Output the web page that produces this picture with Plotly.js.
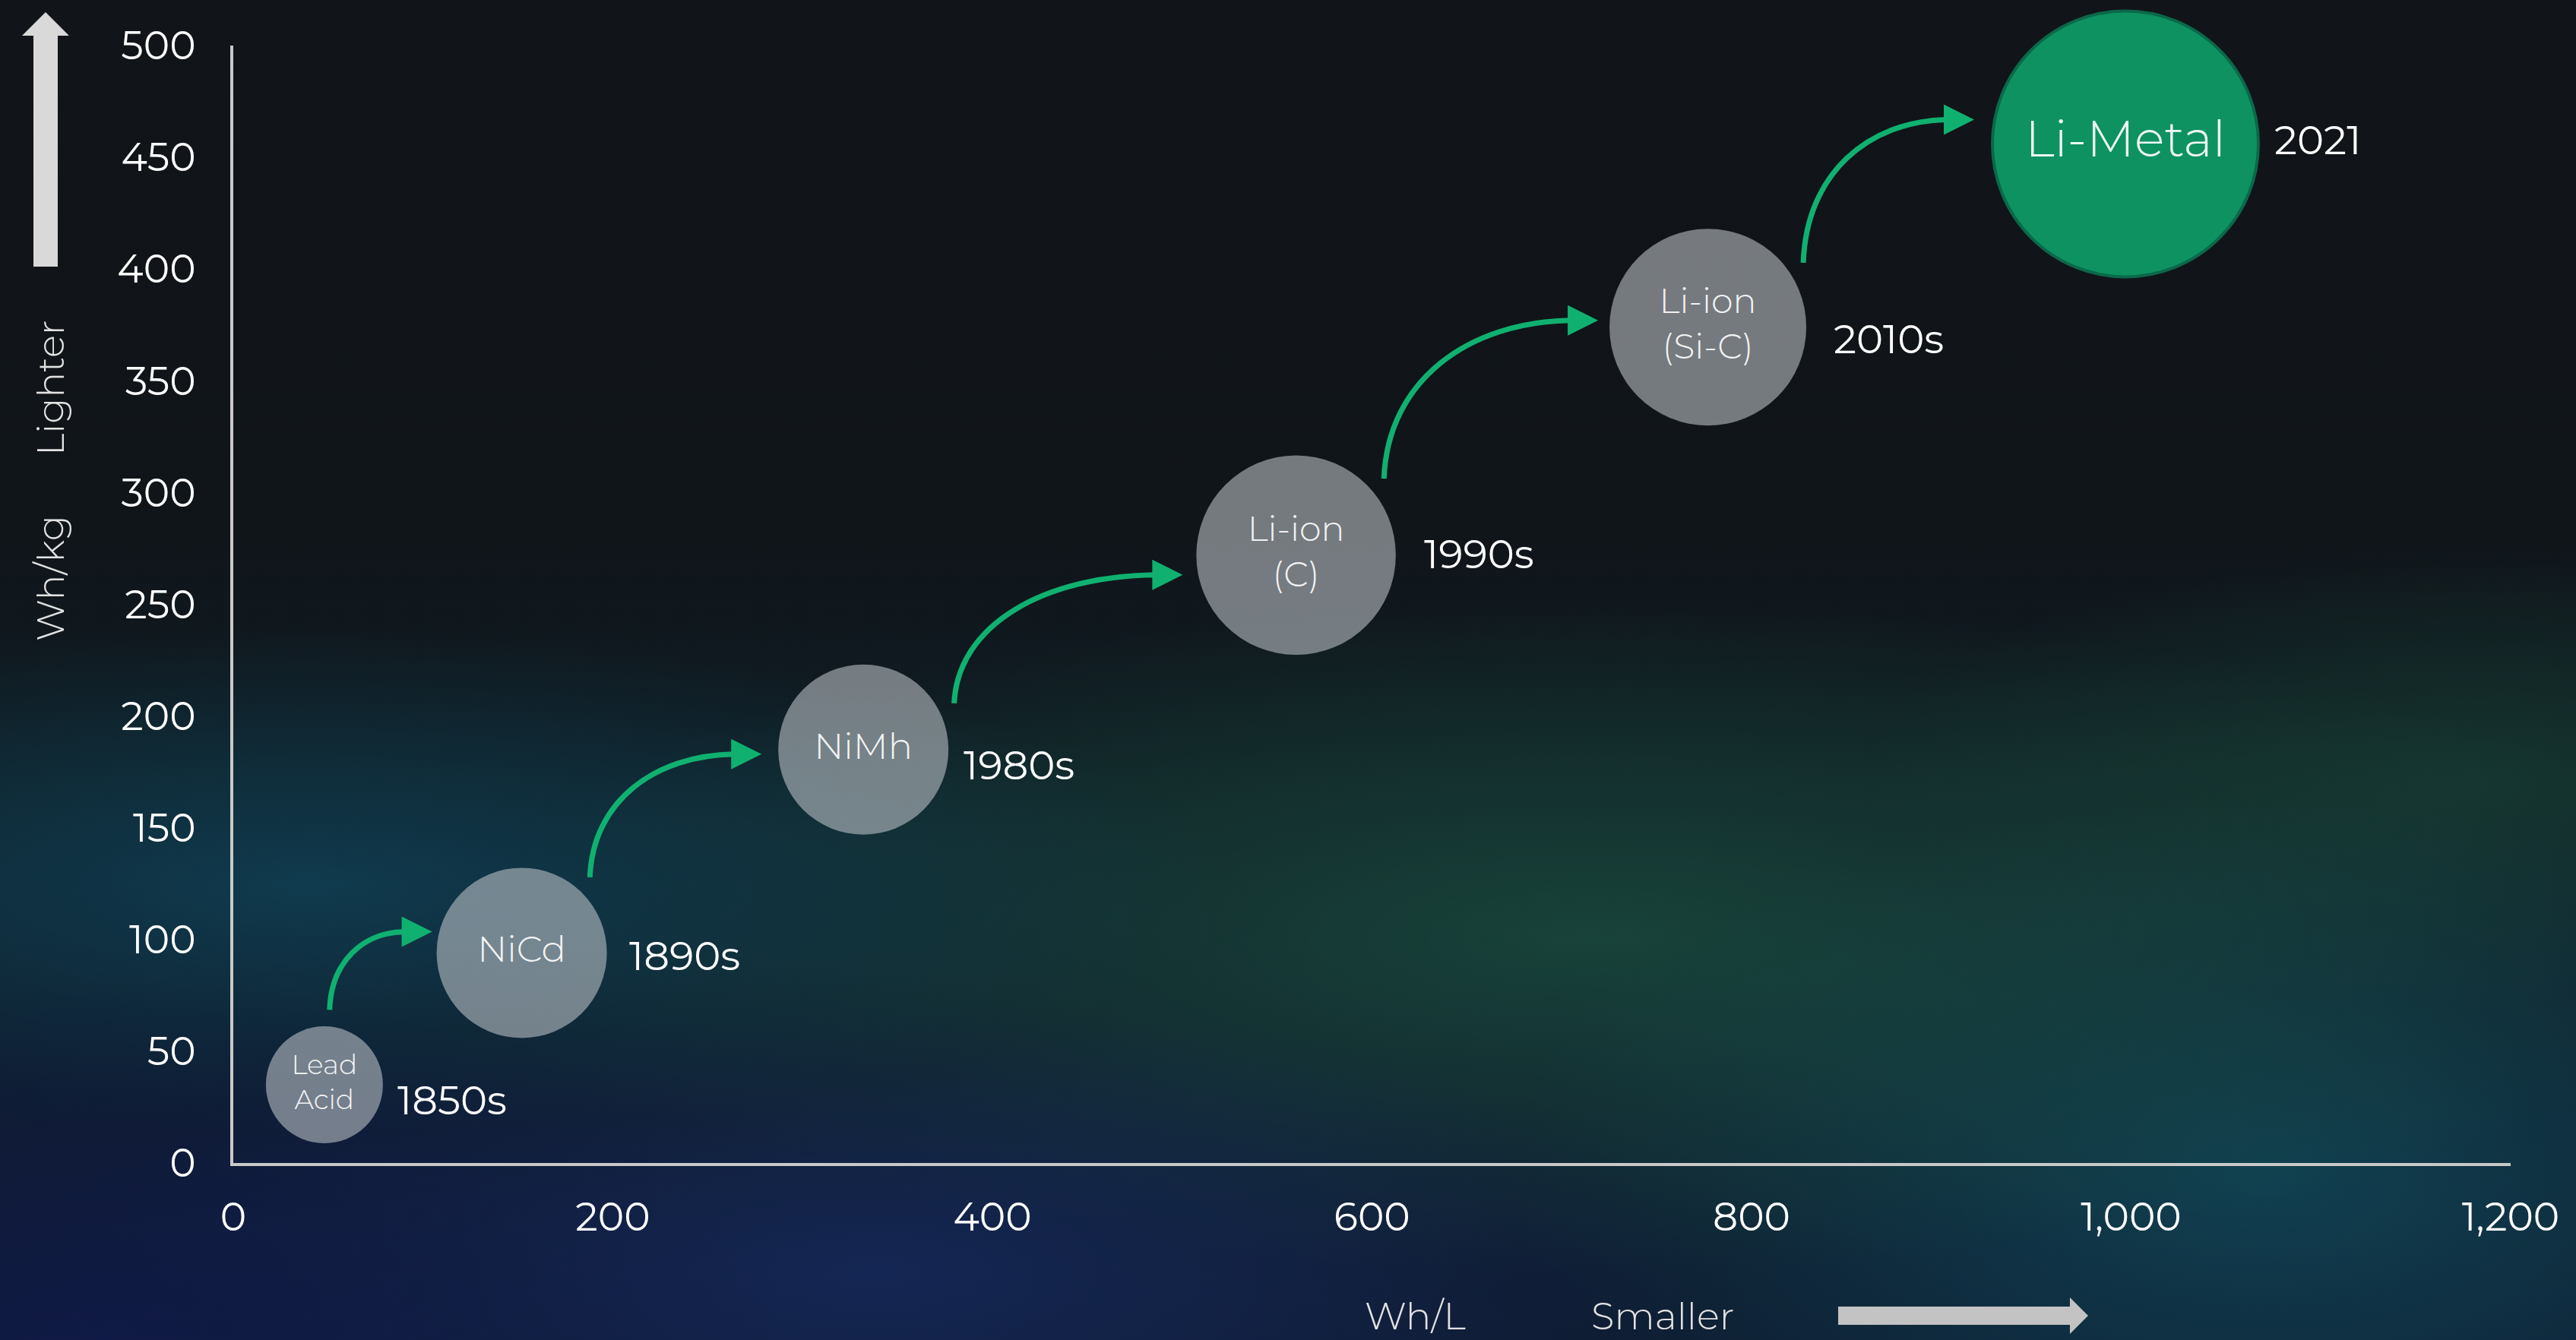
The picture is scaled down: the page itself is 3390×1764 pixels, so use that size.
<!DOCTYPE html>
<html>
<head>
<meta charset="utf-8">
<script src="https://cdn.plot.ly/plotly-3.0.1.min.js"></script>
<style>
  html, body { margin:0; padding:0; background:#111419; }
  #wrap { position:relative; width:3390px; height:1764px; overflow:hidden;
    background:
      radial-gradient(ellipse 900px 480px at 4% 100%, rgba(16,26,72,0.9), rgba(16,26,72,0) 100%),
      radial-gradient(ellipse 1200px 330px at 12% 66%, rgba(16,78,104,0.6), rgba(16,78,104,0) 100%),
      radial-gradient(ellipse 1100px 360px at 34% 95%, rgba(24,44,104,0.65), rgba(24,44,104,0) 100%),
      radial-gradient(ellipse 1500px 440px at 62% 70%, rgba(30,92,70,0.6), rgba(30,92,70,0) 100%),
      radial-gradient(ellipse 1000px 500px at 88% 88%, rgba(18,88,104,0.6), rgba(18,88,104,0) 100%),
      radial-gradient(ellipse 800px 300px at 96% 58%, rgba(28,82,62,0.45), rgba(28,82,62,0) 100%),
      linear-gradient(180deg, #111419 0%, #10151a 40%, #0f1d24 58%, #0e1b30 100%);
  }
  #chart { position:absolute; left:0; top:0; width:3390px; height:1764px; }
</style>
</head>
<body>
<div id="wrap"><div id="chart"></div></div>
<script>
// ---- data ----
const chemistries = ['Lead<br>Acid', 'NiCd', 'NiMh', 'Li-ion<br>(C)', 'Li-ion<br>(Si-C)', 'Li-Metal'];
const eras        = ['1850s', '1890s', '1980s', '1990s', '2010s', '2021'];
const whPerL      = [48, 152, 332, 560, 777, 997];    // volumetric energy density
const whPerKg     = [35, 94, 185, 272, 374, 456];     // gravimetric energy density
const bubbleScale = [44, 64, 64, 75, 74, 100];        // relative bubble size
const xTickVals   = [0, 200, 400, 600, 800, 1000, 1200];
const xTickText   = ['0', '200', '400', '600', '800', '1,000', '1,200'];
const yTickVals   = [0, 50, 100, 150, 200, 250, 300, 350, 400, 450, 500];

// ---- layout geometry ----
const W = 3390, H = 1764, ML = 307, MR = 86, MT = 60, MB = 233;
const XMAX = 1200, YMAX = 500;
const plotW = W - ML - MR, plotH = H - MT - MB;
const pxX = plotW / XMAX, pxY = plotH / YMAX;
const MAXD = 350;                       // diameter in px of the largest bubble
const sizeref = 100 / MAXD;

function toPx(x, y) { return [ML + x * pxX, MT + (YMAX - y) * pxY]; }
function toData(px, py) { return [(px - ML) / pxX, YMAX - (py - MT) / pxY]; }
function toPaper(px, py) { return [(px - ML) / plotW, (H - MB - py) / plotH]; }

const radius = bubbleScale.map(s => s / sizeref / 2);

// ---- curved arrows between consecutive bubbles ----
const GREEN = '#10b170';
const startAngle = [86, 48, 27, 41, 34];   // degrees, where the arrow leaves bubble i
const tipGap     = [6, 22, 18, 15, 24];    // px between arrow tip and next bubble edge
const tipDy      = [-28, 6, 26, -9, -32];  // px vertical offset of tip from next centre
const shapes = [];
for (let i = 0; i < whPerL.length - 1; i++) {
  const [cx0, cy0] = toPx(whPerL[i], whPerKg[i]);
  const [cx1, cy1] = toPx(whPerL[i + 1], whPerKg[i + 1]);
  const a = startAngle[i] * Math.PI / 180;
  const d0 = radius[i] + 22;
  const sx = cx0 + d0 * Math.cos(a), sy = cy0 - d0 * Math.sin(a);
  const tx = cx1 - radius[i + 1] - tipGap[i], ty = cy1 + tipDy[i];
  const headL = 40, headH = 20;
  const ex = tx - headL + 4, ey = ty;
  const w = ex - sx, h = sy - ey;
  const p1 = [sx + 0.02 * w, sy - 0.62 * h];
  const p2 = [ex - 0.55 * w, ey + 0.01 * h];
  const D = (p) => toData(p[0], p[1]).map(v => v.toFixed(3)).join(',');
  shapes.push({
    type: 'path', xref: 'x', yref: 'y', layer: 'above',
    path: `M ${D([sx, sy])} C ${D(p1)} ${D(p2)} ${D([ex, ey])}`,
    line: { color: GREEN, width: 7 }, fillcolor: 'rgba(0,0,0,0)'
  });
  shapes.push({
    type: 'path', xref: 'x', yref: 'y', layer: 'above',
    path: `M ${D([tx - headL, ty - headH])} L ${D([tx, ty])} L ${D([tx - headL, ty + headH])} Z`,
    line: { color: GREEN, width: 0 }, fillcolor: GREEN
  });
}

// ---- decorative axis arrows (paper coords) ----
function P(px, py) { return toPaper(px, py).map(v => v.toFixed(5)).join(','); }
// up arrow (Lighter)
shapes.push({
  type: 'path', xref: 'paper', yref: 'paper', layer: 'above',
  path: `M ${P(44, 351)} L ${P(44, 47)} L ${P(29, 47)} L ${P(60, 16)} L ${P(91, 47)} L ${P(76, 47)} L ${P(76, 351)} Z`,
  line: { width: 0 }, fillcolor: '#d9d9d9'
});
// right arrow (Smaller)
shapes.push({
  type: 'path', xref: 'paper', yref: 'paper', layer: 'above',
  path: `M ${P(2419, 1720)} L ${P(2724, 1720)} L ${P(2724, 1708)} L ${P(2748, 1732)} L ${P(2724, 1756)} L ${P(2724, 1744)} L ${P(2419, 1744)} Z`,
  line: { width: 0 }, fillcolor: '#c3c3c3'
});

// ---- annotations ----
const FONT = 'Montserrat, "Open Sans", Lato, sans-serif';
const eraDx = [1, 11, 2, 19, 18, 3];         // px fine offsets of the era labels
const eraDy = [-20, -4, -20, 2, -15, 5];
const annotations = whPerL.map((x, i) => ({
  x: x, y: whPerKg[i], xref: 'x', yref: 'y',
  text: eras[i], showarrow: false, xanchor: 'left', yanchor: 'middle',
  xshift: radius[i] + 16 + eraDx[i], yshift: eraDy[i],
  font: { family: FONT, size: 53, color: '#ffffff' }
}));
function paperAnno(px, py, text, extra) {
  const [x, y] = toPaper(px, py);
  return Object.assign({ x, y, xref: 'paper', yref: 'paper', text, showarrow: false,
    xanchor: 'center', yanchor: 'middle',
    font: { family: FONT, size: 50, color: '#e2e2e2', weight: 300 } }, extra || {});
}
annotations.push(paperAnno(66, 761, 'Wh/kg', { textangle: -90 }));
annotations.push(paperAnno(66, 510, 'Lighter', { textangle: -90 }));
annotations.push(paperAnno(1862, 1732, 'Wh/L'));
annotations.push(paperAnno(2188, 1732, 'Smaller'));

// ---- trace ----
const grayFill = 'rgba(192,197,201,0.58)';
const trace = {
  type: 'scatter', mode: 'markers+text',
  x: whPerL, y: whPerKg,
  text: chemistries, textposition: 'middle center',
  textfont: { family: FONT, size: [36, 48, 48, 46, 46, 66], color: 'rgba(255,255,255,0.93)', weight: 300 },
  marker: {
    size: bubbleScale, sizemode: 'diameter', sizeref: sizeref, opacity: 1,
    color: [grayFill, grayFill, grayFill, grayFill, grayFill, '#0e9262'],
    line: { color: ['rgba(0,0,0,0)', 'rgba(0,0,0,0)', 'rgba(0,0,0,0)', 'rgba(0,0,0,0)', 'rgba(0,0,0,0)', '#0b6849'],
            width: [0, 0, 0, 0, 0, 4] }
  },
  cliponaxis: false, hoverinfo: 'skip'
};

const axisCommon = {
  showgrid: false, zeroline: false, showline: true, linecolor: '#c9c9c9', linewidth: 4,
  ticks: '', tickfont: { family: FONT, size: 52, color: '#ffffff' }, fixedrange: true
};

const layout = {
  width: W, height: H,
  margin: { l: ML, r: MR, t: MT, b: MB, pad: 0 },
  paper_bgcolor: 'rgba(0,0,0,0)', plot_bgcolor: 'rgba(0,0,0,0)',
  showlegend: false, hovermode: false,
  font: { family: FONT, color: '#ffffff' },
  xaxis: Object.assign({}, axisCommon, {
    range: [0, XMAX], tickmode: 'array', tickvals: xTickVals, ticktext: xTickText,
    ticklabelstandoff: 23
  }),
  yaxis: Object.assign({}, axisCommon, {
    range: [0, YMAX], tickmode: 'array', tickvals: yTickVals,
    ticklabelstandoff: 35
  }),
  shapes: shapes,
  annotations: annotations
};

Plotly.newPlot('chart', [trace], layout, { staticPlot: true, displayModeBar: false });
</script>
</body>
</html>
